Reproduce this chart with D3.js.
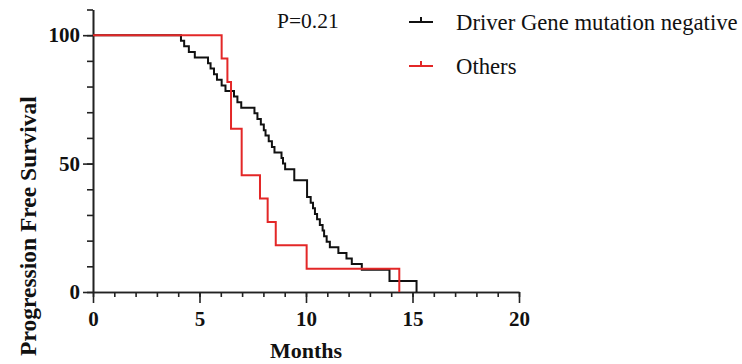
<!DOCTYPE html>
<html><head><meta charset="utf-8">
<script src="https://cdn.jsdelivr.net/npm/d3@7"></script>
<style>
html,body{margin:0;padding:0;background:#fff;}
svg{display:block;}
</style></head>
<body>
<svg id="chart" width="742" height="364"></svg>
<script>
// ---- data ----
const xMajorTicks = [0, 5, 10, 15, 20];
const yMajorTicks = [0, 50, 100];
const seriesNames = ["Driver Gene mutation negative", "Others"];
const seriesColors = ["#111111", "#e32727"];
const pValueText = "P=0.21";

// Driver Gene mutation negative: step times (months) and survival (%) after each step
const negTimes = [0, 4.13, 4.28, 4.50, 4.78, 5.40, 5.52, 5.68, 5.82, 6.04, 6.22, 6.62, 6.78, 6.96,
  7.58, 7.72, 7.88, 8.02, 8.10, 8.25, 8.40, 8.52, 8.85, 8.92, 9.02, 9.45,
  10.05, 10.22, 10.33, 10.42, 10.52, 10.65, 10.78, 10.85, 10.97, 11.12,
  11.52, 11.90, 12.15, 12.62, 13.92, 15.19];
const negSurv = [100, 97.8, 95.7, 93.5, 91.3, 89.1, 87.0, 84.8, 82.6, 80.4, 78.3, 76.1, 73.9, 71.7,
  69.6, 67.4, 65.2, 63.0, 60.9, 58.7, 56.5, 54.3, 52.2, 50.0, 47.8, 43.5,
  37.0, 34.8, 32.6, 30.4, 28.3, 26.1, 23.9, 21.7, 19.6, 17.4,
  15.2, 13.0, 10.9, 8.7, 4.3, 0];

// Others
const othTimes = [0, 6.04, 6.31, 6.48, 6.98, 7.84, 8.20, 8.58, 10.03, 14.38];
const othSurv  = [100, 90.9, 81.8, 63.6, 45.5, 36.4, 27.3, 18.2, 9.1, 0];

// ---- drawing ----
const svg = d3.select("#chart");
const x = d3.scaleLinear().domain([0, 20]).range([93, 519]);
const y = d3.scaleLinear().domain([0, 110]).range([292, 9.5]);

const axisColor = "#222";
const serif = "'Liberation Serif','Times New Roman',serif";

// x axis: minor
const gxMinor = svg.append("g").attr("transform", `translate(0,${y(0)})`)
  .call(d3.axisBottom(x).tickValues(d3.range(0, 21, 1)).tickSize(5).tickSizeOuter(0).tickFormat(""));
// x axis: major
const gx = svg.append("g").attr("transform", `translate(0,${y(0)})`)
  .call(d3.axisBottom(x).tickValues(xMajorTicks).tickSize(11).tickSizeOuter(0).tickPadding(8).tickFormat(d3.format("d")));
// y axis minor
const gyMinor = svg.append("g").attr("transform", `translate(${x(0)},0)`)
  .call(d3.axisLeft(y).tickValues(d3.range(0, 111, 10)).tickSize(6).tickSizeOuter(0).tickFormat(""));
const gy = svg.append("g").attr("transform", `translate(${x(0)},0)`)
  .call(d3.axisLeft(y).tickValues(yMajorTicks).tickSize(10).tickSizeOuter(0).tickPadding(3).tickFormat(d3.format("d")));

[gxMinor, gx, gyMinor, gy].forEach(g => {
  g.attr("font-family", serif).attr("font-size", 21).attr("font-weight", "bold");
  g.selectAll("path.domain").attr("stroke", axisColor).attr("stroke-width", 1.6);
  g.selectAll(".tick line").attr("stroke", axisColor).attr("stroke-width", 1.6);
  g.selectAll(".tick text").attr("fill", "#111").style("font-family", serif)
    .style("font-weight", "bold").style("font-size", "21px");
});

// axis titles
svg.append("text").attr("x", (x(0) + x(20)) / 2).attr("y", 358)
  .attr("text-anchor", "middle").style("font-family", serif).style("font-weight", "bold")
  .style("font-size", "22px").attr("fill", "#111").text("Months");
svg.append("text").attr("transform", `translate(36,${226}) rotate(-90)`)
  .attr("text-anchor", "middle").style("font-family", serif).style("font-weight", "bold")
  .style("font-size", "23.5px").attr("fill", "#111").text("Progression Free Survival");

// curves
const line = d3.line().x(d => x(d[0])).y(d => y(d[1])).curve(d3.curveStepAfter);
const negData = negTimes.map((t, i) => [t, negSurv[i]]);
const othData = othTimes.map((t, i) => [t, othSurv[i]]);

svg.append("path").datum(negData).attr("d", line).attr("fill", "none")
  .attr("stroke", seriesColors[0]).attr("stroke-width", 2);
svg.append("path").datum(othData).attr("d", line).attr("fill", "none")
  .attr("stroke", seriesColors[1]).attr("stroke-width", 2);

// p value
svg.append("text").attr("x", 277).attr("y", 28).style("font-family", serif)
  .style("font-size", "21.5px").attr("fill", "#111").text(pValueText);

// legend
const legY = [22, 66];
seriesNames.forEach((name, i) => {
  const g = svg.append("g");
  g.append("line").attr("x1", 409).attr("x2", 433).attr("y1", legY[i]).attr("y2", legY[i])
    .attr("stroke", seriesColors[i]).attr("stroke-width", 2);
  g.append("line").attr("x1", 421).attr("x2", 421).attr("y1", legY[i] - 5).attr("y2", legY[i])
    .attr("stroke", seriesColors[i]).attr("stroke-width", 2);
  g.append("text").attr("x", 456).attr("y", legY[i] + 8).style("font-family", serif)
    .style("font-size", "22.7px").attr("fill", "#111").text(name);
});
</script>
</body></html>
